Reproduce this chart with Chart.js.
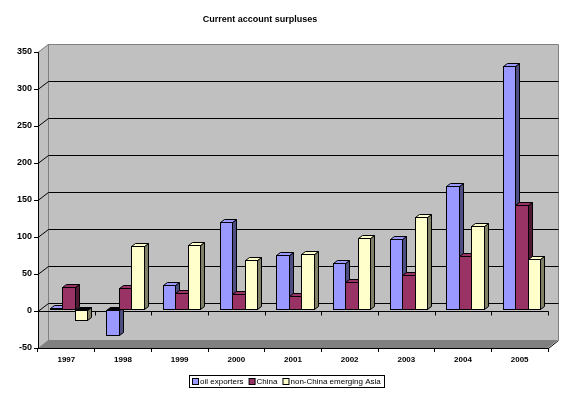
<!DOCTYPE html>
<html>
<head>
<meta charset="utf-8">
<script src="https://cdn.jsdelivr.net/npm/chart.js@4/dist/chart.umd.min.js"></script>
<style>
  html, body { margin: 0; padding: 0; background: #ffffff; }
  #wrap { width: 576px; height: 394px; }
</style>
</head>
<body>
<div id="wrap"><canvas id="c" width="576" height="394"></canvas></div>
<script>
const titleText = 'Current account surpluses';
const categories = ['1997', '1998', '1999', '2000', '2001', '2002', '2003', '2004', '2005'];
const seriesNames = ['oil exporters', 'China', 'non-China emerging Asia'];
const oilExporters = [2, -35, 33, 117, 73, 62, 94, 166, 328];
const china = [30, 29, 21, 20, 17, 36, 46, 71, 140];
const nonChinaAsia = [-15, 85, 86, 66, 74, 96, 124, 112, 68];
const yMin = -50, yMax = 350, yStep = 50;

const frontColors = ['#9999FF', '#993366', '#FFFFCC'];
const sideColors = ['#4D4D80', '#4D1A33', '#808066'];
const topColors = ['#9999FF', '#993366', '#FFFFCC'];

const DEPTH_X = 10, DEPTH_Y = -8;     // back wall offset
const BAR_DX = 4, BAR_DY = -3;        // bar depth
const BAR_SHIFT_X = 2, BAR_SHIFT_Y = -2;

const wallPlugin = {
  id: 'wall3d',
  beforeDraw(chart) {
    const ctx = chart.ctx;
    const ca = chart.chartArea;
    const ys = chart.scales.y, xs = chart.scales.x;
    const L = ca.left, R = ca.right, T = ca.top, B = ca.bottom;
    const bL = L + DEPTH_X, bR = R + DEPTH_X, bT = T + DEPTH_Y, bB = B + DEPTH_Y;
    ctx.save();
    // back wall
    ctx.fillStyle = '#C0C0C0';
    ctx.fillRect(bL, bT, bR - bL, bB - bT);
    // left wall
    ctx.beginPath();
    ctx.moveTo(L, T); ctx.lineTo(bL, bT); ctx.lineTo(bL, bB); ctx.lineTo(L, B); ctx.closePath();
    ctx.fill();
    // region between front plane (zero..bottom) is also wall color
    // floor
    ctx.fillStyle = '#808080';
    ctx.beginPath();
    ctx.moveTo(L, B); ctx.lineTo(bL, bB); ctx.lineTo(bR, bB); ctx.lineTo(R, B); ctx.closePath();
    ctx.fill();
    // gray borders of wall
    ctx.strokeStyle = '#808080';
    ctx.lineWidth = 1;
    ctx.beginPath();
    ctx.moveTo(L, T + 0.5); ctx.lineTo(bL + 0.5, bT + 0.5); ctx.lineTo(bR + 0.5, bT + 0.5);
    ctx.lineTo(bR + 0.5, bB); 
    ctx.moveTo(bL + 0.5, bT); ctx.lineTo(bL + 0.5, bB);
    ctx.stroke();
    // gridlines
    ctx.strokeStyle = '#000000';
    for (let v = yMin + yStep; v < yMax; v += yStep) {
      const py = Math.round(ys.getPixelForValue(v)) + 0.5;
      ctx.beginPath();
      ctx.moveTo(L, py);
      ctx.lineTo(bL + 0.5, py + DEPTH_Y);
      ctx.lineTo(bR + 0.5, py + DEPTH_Y);
      ctx.stroke();
    }
    // floor right edge
    ctx.beginPath();
    ctx.moveTo(R + 0.5, B + 0.5); ctx.lineTo(bR + 0.5, bB + 0.5);
    ctx.stroke();
    // front zero line with ticks
    const z = Math.round(ys.getPixelForValue(0)) + 0.5;
    ctx.beginPath();
    ctx.moveTo(L, z); ctx.lineTo(R + 0.5, z);
    const n = categories.length;
    const cw = (R - L) / n;
    for (let i = 0; i <= n; i++) {
      const px = Math.round(L + i * cw) + 0.5;
      ctx.moveTo(px, z); ctx.lineTo(px, z + 4);
    }
    ctx.stroke();
    ctx.restore();
  },
  beforeDatasetsDraw(chart) {
    const ctx = chart.ctx;
    ctx.save();
    ctx.lineWidth = 1;
    ctx.strokeStyle = '#000000';
    const n = categories.length;
    for (let i = 0; i < n; i++) {
      for (let d = 0; d < chart.data.datasets.length; d++) {
        const el = chart.getDatasetMeta(d).data[i];
        const w = el.width;
        const x0 = Math.round(el.x - w / 2 + BAR_SHIFT_X) + 0.5;
        const x1 = Math.round(el.x + w / 2 + BAR_SHIFT_X) + 0.5;
        const yT = Math.round(Math.min(el.y, el.base) + BAR_SHIFT_Y) + 0.5;
        const yB = Math.round(Math.max(el.y, el.base) + BAR_SHIFT_Y) + 0.5;
        const neg = chart.data.datasets[d].data[i] < 0;
        // side face
        ctx.fillStyle = sideColors[d];
        ctx.beginPath();
        ctx.moveTo(x1, yT); ctx.lineTo(x1 + BAR_DX, yT + BAR_DY);
        ctx.lineTo(x1 + BAR_DX, yB + BAR_DY); ctx.lineTo(x1, yB); ctx.closePath();
        ctx.fill(); ctx.stroke();
        // top face
        ctx.fillStyle = neg ? '#000000' : topColors[d];
        ctx.beginPath();
        ctx.moveTo(x0, yT); ctx.lineTo(x0 + BAR_DX, yT + BAR_DY);
        ctx.lineTo(x1 + BAR_DX, yT + BAR_DY); ctx.lineTo(x1, yT); ctx.closePath();
        ctx.fill(); ctx.stroke();
        // front face
        ctx.fillStyle = frontColors[d];
        ctx.fillRect(x0, yT, x1 - x0, yB - yT);
        ctx.strokeRect(x0, yT, x1 - x0, yB - yT);
      }
    }
    ctx.restore();
    return false;
  },
  afterDraw(chart) {
    const ctx = chart.ctx;
    ctx.save();
    // title
    ctx.fillStyle = '#000000';
    ctx.font = 'bold 9px "Liberation Sans", Arial, sans-serif';
    ctx.textAlign = 'center';
    ctx.textBaseline = 'middle';
    ctx.fillText(titleText, 260, 20);
    // legend
    ctx.font = '8px "Liberation Sans", Arial, sans-serif';
    ctx.textAlign = 'left';
    const sw = 6, gapSw = 2, gapItem = 5;
    const widths = chart.data.datasets.map(ds => ctx.measureText(ds.label).width);
    let total = 0;
    widths.forEach((w, k) => { total += sw + gapSw + w + (k < widths.length - 1 ? gapItem : 0); });
    const cx = 286.5;
    let x = Math.round(cx - total / 2);
    const boxL = x - 3, boxR = x + total + 3;
    const ly = 381;
    ctx.strokeStyle = '#000000';
    ctx.lineWidth = 1;
    ctx.strokeRect(boxL + 0.5, 375.5, Math.round(boxR - boxL), 12);
    chart.data.datasets.forEach((ds, k) => {
      ctx.fillStyle = frontColors[k];
      ctx.fillRect(x + 0.5, ly - 3 + 0.5, sw, sw);
      ctx.strokeRect(x + 0.5, ly - 3 + 0.5, sw, sw);
      ctx.fillStyle = '#000000';
      ctx.fillText(ds.label, x + sw + gapSw, ly + 1);
      x += sw + gapSw + widths[k] + gapItem;
    });
    ctx.restore();
  }
};

const seriesValues = [oilExporters, china, nonChinaAsia];
new Chart(document.getElementById('c'), {
  type: 'bar',
  data: {
    labels: categories,
    datasets: seriesNames.map((name, k) => ({
      label: name,
      data: seriesValues[k],
      backgroundColor: frontColors[k],
      borderColor: '#000000',
      borderWidth: 1,
      categoryPercentage: 0.66,
      barPercentage: 1.0
    }))
  },
  options: {
    responsive: false,
    animation: false,
    events: [],
    layout: { padding: { left: 0, right: 28, top: 52, bottom: 0 } },
    plugins: { legend: { display: false }, title: { display: false }, tooltip: { enabled: false } },
    scales: {
      x: {
        offset: true,
        grid: { offset: true, drawOnChartArea: false, drawTicks: true, tickLength: 4, color: '#000000' },
        border: { display: true, color: '#000000', width: 1 },
        ticks: { color: '#000000', font: { family: '"Liberation Sans", Arial, sans-serif', size: 8, weight: 'bold' }, padding: 3, maxRotation: 0 },
        afterFit(scale) { scale.height = 46; }
      },
      y: {
        min: yMin, max: yMax,
        grid: { drawOnChartArea: false, drawTicks: true, tickLength: 4, color: '#000000' },
        border: { display: true, color: '#000000', width: 1 },
        ticks: { stepSize: yStep, color: '#000000', font: { family: '"Liberation Sans", Arial, sans-serif', size: 9, weight: 'bold' }, padding: 2 },
        afterFit(scale) { scale.width = 38; }
      }
    }
  },
  plugins: [wallPlugin]
});
</script>
</body>
</html>
